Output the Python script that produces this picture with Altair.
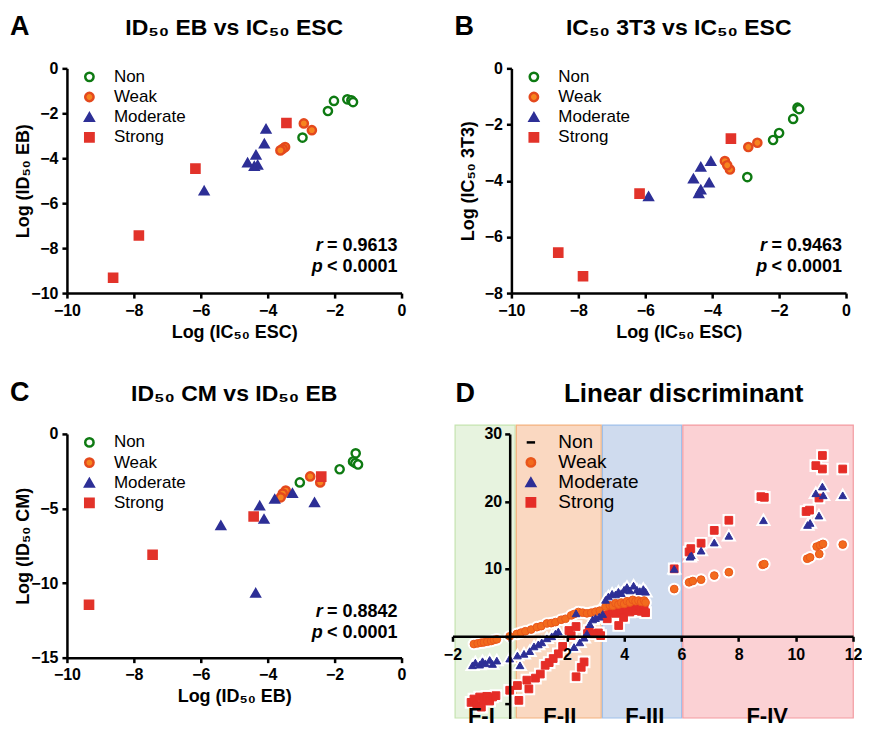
import altair as alt
import pandas as pd

FONT = "Liberation Sans"
CLASSES = ["Non", "Weak", "Moderate", "Strong"]

GREEN = "#0e7a12"
WEAK_FILL = "#f6841f"
WEAK_STROKE = "#e4491d"
MOD = "#2d2f96"
STR = "#e2332a"

# ---------------- Panel A : log ID50 EB vs log IC50 ESC ----------------
A_non_x = [-2.96, -2.2, -2.02, -1.62, -1.5, -1.45]
A_non_y = [-3.08, -1.9, -1.45, -1.38, -1.42, -1.5]
A_weak_x = [-2.92, -2.68, -3.48, -3.55, -3.62]
A_weak_y = [-2.45, -2.75, -3.5, -3.58, -3.65]
A_mod_x = [-4.05, -4.1, -4.35, -4.6, -4.4, -4.3, -5.9]
A_mod_y = [-2.7, -3.35, -3.85, -4.2, -4.35, -4.3, -5.45]
A_str_x = [-3.44, -6.16, -7.85, -8.62]
A_str_y = [-2.43, -4.46, -7.44, -9.32]

# ---------------- Panel B : log IC50 3T3 vs log IC50 ESC ----------------
B_non_x = [-1.45, -1.4, -1.58, -2.0, -2.18, -2.95]
B_non_y = [-1.4, -1.45, -1.8, -2.3, -2.55, -3.87]
B_weak_x = [-2.65, -2.92, -3.62, -3.47, -3.55]
B_weak_y = [-2.65, -2.8, -3.3, -3.6, -3.45]
B_mod_x = [-4.04, -4.34, -4.09, -4.56, -4.34, -4.4, -5.9]
B_mod_y = [-3.31, -3.51, -4.07, -3.93, -4.32, -4.45, -4.56]
B_str_x = [-3.44, -6.17, -8.6, -7.86]
B_str_y = [-2.5, -4.46, -6.56, -7.4]

# ---------------- Panel C : log ID50 CM vs log ID50 EB ----------------
C_non_x = [-1.37, -1.45, -1.38, -1.3, -1.85, -3.04]
C_non_y = [-1.3, -1.85, -1.95, -2.05, -2.37, -3.25]
C_weak_x = [-2.73, -2.43, -3.46, -3.55, -3.61]
C_weak_y = [-2.85, -3.25, -3.8, -4.0, -4.25]
C_mod_x = [-3.26, -3.79, -4.24, -4.11, -2.6, -5.4, -4.36]
C_mod_y = [-3.97, -4.37, -4.82, -5.71, -4.6, -6.14, -10.67]
C_str_x = [-2.4, -4.42, -7.44, -9.34]
C_str_y = [-2.86, -5.54, -8.1, -11.45]

# ---------------- Panel D : linear discriminant ----------------
D_weak_x = [-1.25, -1.12, -1.0, -0.9, -0.78, -0.65, -0.55, -0.45, 0.0,
            0.25, 0.4, 0.55, 0.75, 0.95, 1.1, 1.3, 1.45, 1.6, 1.8, 1.95, 2.15, 2.25, 2.4, 2.55, 2.7, 2.85, 3.0, 3.15,
            3.35, 3.5, 3.6, 3.7, 3.8, 3.9, 4.0, 4.1, 4.2, 4.3, 4.4, 4.5, 4.6, 4.7, 4.75,
            5.75,
            6.27, 6.4, 6.69, 7.15, 7.66, 8.84, 8.9, 10.4, 10.5, 10.82, 10.73, 10.85, 10.95, 11.64]
D_weak_y = [-1.15, -1.05, -0.95, -0.9, -0.8, -0.7, -0.55, -0.45, 0.0,
            0.35, 0.55, 0.75, 1.0, 1.35, 1.5, 1.9, 1.95, 2.1, 2.45, 2.6, 3.1, 3.3, 3.6, 3.5, 3.4, 3.5, 3.65, 3.8,
            4.4, 4.6, 4.5, 4.9, 4.7, 5.0, 4.8, 5.2, 5.0, 5.4, 5.2, 5.3, 5.1, 5.3, 5.0,
            7.0,
            8.0, 8.2, 8.4, 9.0, 9.5, 10.6, 10.7, 11.5, 11.7, 12.2, 13.3, 13.5, 13.7, 13.6]
D_mod_x = [-1.3, -1.2, -1.05, -0.95, -0.85, -0.7, -0.6, -0.45,
           0.0, 0.27, 0.36, 0.5, 0.7, 0.85, 1.0, 1.12, 1.3, 1.47, 1.6, 1.7,
           2.25, 2.32, 2.45, 2.6, 2.7, 2.8, 2.9, 3.0, 3.13, 3.25,
           3.35, 3.45, 3.58, 3.7, 3.8, 3.9, 4.0, 4.1, 4.2, 4.33, 4.45, 4.55, 4.67, 4.75,
           5.75,
           6.3, 6.35, 6.69, 7.15, 7.66, 8.87, 10.41, 10.5, 10.81, 10.7, 10.93, 10.96, 11.64]
D_mod_y = [-4.3, -3.9, -4.2, -3.7, -4.0, -3.5, -4.1, -3.6,
           -3.3, -2.85, -4.3, -2.6, -2.2, -1.5, -1.2, -0.9, -0.3, 0.0, 0.4, 0.7,
           -1.6, 3.4, -0.9, -0.2, 0.4, 1.8, 2.5, 2.7, 2.9, 3.3,
           5.4, 5.9, 6.3, 6.2, 6.6, 6.4, 6.9, 7.3, 6.8, 7.5, 6.9, 6.7, 7.0, 6.6,
           10.0,
           11.8, 12.0, 12.7, 13.9, 14.9, 17.2, 16.5, 16.8, 17.9, 21.2, 22.2, 20.9, 20.9]
D_str_x = [-1.35, -1.25, -1.15, -1.05, -0.99, -0.9, -0.8, -0.7, -0.6, -0.48,
           0.0, 0.27, 0.32, 0.6, 0.67, 0.9, 1.07, 1.24, 1.38, 1.52, 1.7, 1.85, 2.07, 2.15, 2.32, 2.32,
           2.5, 2.6, 2.72, 2.78, 2.95, 3.1, 3.18,
           3.35, 3.41, 3.5, 3.6, 3.7, 3.81, 3.9, 3.98, 4.1, 4.2, 4.3, 4.4, 4.5, 4.6, 4.7, 4.75,
           5.75,
           6.27, 6.33, 6.69, 7.15, 7.66, 8.78, 8.9, 10.36, 10.48, 10.7, 10.93, 10.93, 10.81, 11.64]
D_str_y = [-9.8, -9.3, -10.2, -9.0, -10.5, -9.5, -8.9, -9.6, -9.0, -8.8,
           -8.0, -7.3, -9.5, -6.5, -7.8, -6.2, -5.6, -4.3, -3.9, -3.3, -2.6, -1.5, 0.86, 0.1, 1.45, -6.0,
           -4.6, -3.8, 0.4, 0.86, 0.37, 0.5, 0.1,
           3.1, 2.6, 3.6, 3.9, 3.4, 1.6, 3.7, 2.8, 4.0, 3.6, 4.3, 3.8, 4.4, 3.7, 4.2, 3.5,
           10.0,
           12.5, 13.0, 13.8, 15.7, 17.2, 20.7, 20.6, 18.5, 18.7, 25.3, 26.8, 24.8, 20.5, 24.8]

BAND_NAMES = ["F-I", "F-II", "F-III", "F-IV"]
BAND_X0 = [-1.93, 0.21, 3.22, 6.03]
BAND_X1 = [0.21, 3.22, 6.03, 12.03]
BAND_YLO = -12.2
BAND_YHI = 31.4
BAND_LABEL_X = [-0.99, 1.75, 4.72, 9.0]
BAND_FILL = ["#e7f3df", "#fad8c1", "#cfdbee", "#fbd1d4"]
BAND_EDGE = ["#c6e4b0", "#f3b27e", "#9fc0ea", "#f39aa0"]


def make_df(groups):
    rows = []
    for cls, xs, ys in groups:
        for x, y in zip(xs, ys):
            rows.append({"cls": cls, "x": x, "y": y})
    return pd.DataFrame(rows)


def txt(text, x, y, size, weight="bold", style="normal", align="left"):
    return alt.Chart(pd.DataFrame({"t": [text]})).mark_text(
        font=FONT, fontSize=size, fontWeight=weight, fontStyle=style,
        align=align, baseline="alphabetic", color="black"
    ).encode(x=alt.value(x), y=alt.value(y), text="t:N")


def scatter_panel(df, letter, title, xtitle, ytitle, ydom, yticks, rval, W=335, H=225):
    leg = alt.Legend(orient="none", legendX=14, legendY=0, title=None,
                     labelFont=FONT, labelFontSize=17, labelFontWeight="normal",
                     labelColor="black", symbolSize=70, symbolStrokeWidth=2.5,
                     labelOffset=16, rowPadding=1.2, padding=0)
    pts = alt.Chart(df).mark_point(opacity=1, size=68, strokeWidth=2.4).encode(
        x=alt.X("x:Q", scale=alt.Scale(domain=[-10, 0], nice=False, zero=False),
                axis=alt.Axis(values=[-10, -8, -6, -4, -2, 0], title=xtitle)),
        y=alt.Y("y:Q", scale=alt.Scale(domain=ydom, nice=False, zero=False),
                axis=alt.Axis(values=yticks, title=ytitle, titleX=-34, titleBaseline="bottom")),
        fill=alt.Fill("cls:N", scale=alt.Scale(domain=CLASSES, range=["white", WEAK_FILL, MOD, STR]), legend=leg),
        stroke=alt.Stroke("cls:N", scale=alt.Scale(domain=CLASSES, range=[GREEN, WEAK_STROKE, MOD, STR]), legend=leg),
        shape=alt.Shape("cls:N", scale=alt.Scale(domain=CLASSES, range=["circle", "circle", "triangle-up", "square"]), legend=leg),
    )
    layers = [
        pts,
        txt(letter, -57, -33, 27),
        txt(title, W / 2, -33, 23, align="center"),
        txt("r", W - 79, 183, 18, style="italic", align="right"),
        txt("= " + rval, W - 4, 183, 18, align="right"),
        txt("p", W - 79, 204, 18, style="italic", align="right"),
        txt("< 0.0001", W - 4, 204, 18, align="right"),
    ]
    return alt.layer(*layers).properties(width=W, height=H)


dfA = make_df([("Non", A_non_x, A_non_y), ("Weak", A_weak_x, A_weak_y),
               ("Moderate", A_mod_x, A_mod_y), ("Strong", A_str_x, A_str_y)])
dfB = make_df([("Non", B_non_x, B_non_y), ("Weak", B_weak_x, B_weak_y),
               ("Moderate", B_mod_x, B_mod_y), ("Strong", B_str_x, B_str_y)])
dfC = make_df([("Non", C_non_x, C_non_y), ("Weak", C_weak_x, C_weak_y),
               ("Moderate", C_mod_x, C_mod_y), ("Strong", C_str_x, C_str_y)])

A = scatter_panel(dfA, "A", "ID₅₀ EB vs IC₅₀ ESC", "Log (IC₅₀ ESC)", "Log (ID₅₀ EB)",
                  [-10, 0], [-10, -8, -6, -4, -2, 0], "0.9613")
B = scatter_panel(dfB, "B", "IC₅₀ 3T3 vs IC₅₀ ESC", "Log (IC₅₀ ESC)", "Log (IC₅₀ 3T3)",
                  [-8, 0], [-8, -6, -4, -2, 0], "0.9463")
C = scatter_panel(dfC, "C", "ID₅₀ CM vs ID₅₀ EB", "Log (ID₅₀ EB)", "Log (ID₅₀ CM)",
                  [-15, 0], [-15, -10, -5, 0], "0.8842", H=224)

# ---------------- Panel D build ----------------
Wd, Hd = 401, 285
xdD = [-2, 12]
ydD = [-12.2, 30]
xsc = alt.Scale(domain=xdD, nice=False, zero=False)
ysc = alt.Scale(domain=ydD, nice=False, zero=False)
xaxD = alt.Axis(values=[-2, 0, 2, 4, 6, 8, 10, 12], title=None, zindex=1,
                offset=-Hd * (0 - ydD[0]) / (ydD[1] - ydD[0]),
                labelExpr="datum.value == 0 ? '' : datum.label", labelPadding=5)
yaxD = alt.Axis(values=[-10, 0, 10, 20, 30], title=None, zindex=1,
                offset=-Wd * (0 - xdD[0]) / (xdD[1] - xdD[0]),
                labelExpr="datum.value <= 0 ? '' : datum.label", labelPadding=3)

bands = pd.DataFrame({"band": BAND_NAMES, "x0": BAND_X0, "x1": BAND_X1,
                      "y0": [BAND_YLO] * 4, "y1": [BAND_YHI] * 4, "lx": BAND_LABEL_X})

edge = alt.Chart(bands).mark_rect().encode(
    x=alt.X("x0:Q", scale=xsc, axis=xaxD), x2="x1",
    y=alt.Y("y0:Q", scale=ysc, axis=yaxD), y2="y1",
    color=alt.Color("band:N", scale=alt.Scale(domain=BAND_NAMES, range=BAND_EDGE), legend=None),
)
fillr = alt.Chart(bands).mark_rect(xOffset=1.2, x2Offset=-1.2, yOffset=-1.2, y2Offset=1.2).encode(
    x=alt.X("x0:Q", scale=xsc, axis=xaxD), x2="x1",
    y=alt.Y("y0:Q", scale=ysc, axis=yaxD), y2="y1",
    color=alt.Color("band:N", scale=alt.Scale(domain=BAND_NAMES, range=BAND_FILL), legend=None),
)

dfD = make_df([("Strong", D_str_x, D_str_y), ("Weak", D_weak_x, D_weak_y),
               ("Moderate", D_mod_x, D_mod_y)])

legD = alt.Legend(orient="none", legendX=69, legendY=-1, title=None,
                  labelFont=FONT, labelFontSize=19, labelFontWeight="normal",
                  labelColor="black", symbolSize=70, symbolStrokeWidth=2.5,
                  labelOffset=18, rowPadding=0, padding=0)
shapeD = alt.Shape("cls:N", scale=alt.Scale(domain=CLASSES, range=["stroke", "circle", "triangle-up", "square"]), legend=legD)

halo = alt.Chart(dfD).mark_point(opacity=1, size=75, fill="white", stroke="white", strokeWidth=4).encode(
    x=alt.X("x:Q", scale=xsc, axis=xaxD),
    y=alt.Y("y:Q", scale=ysc, axis=yaxD),
    shape=shapeD,
)
ptsD = alt.Chart(dfD).mark_point(opacity=1, size=60, strokeWidth=1).encode(
    x=alt.X("x:Q", scale=xsc, axis=xaxD),
    y=alt.Y("y:Q", scale=ysc, axis=yaxD),
    fill=alt.Fill("cls:N", scale=alt.Scale(domain=CLASSES, range=["black", "#f26b1d", MOD, "#e52d27"]), legend=legD),
    stroke=alt.Stroke("cls:N", scale=alt.Scale(domain=CLASSES, range=["black", "#e9561b", MOD, "#e52d27"]), legend=legD),
    shape=shapeD,
)
flabels = alt.Chart(bands).mark_text(font=FONT, fontSize=22, fontWeight="bold", color="black",
                                     baseline="alphabetic", align="center").encode(
    x=alt.X("lx:Q", scale=xsc, axis=xaxD), y=alt.value(Hd + 4), text="band:N")

D = alt.layer(
    edge, fillr, halo, ptsD, flabels,
    txt("D", 3, -32, 27),
    txt("Linear discriminant", Wd / 2 + 31, -32, 26, align="center"),
).resolve_scale(color="independent").properties(width=Wd, height=Hd)

ind = dict(fill="independent", stroke="independent", shape="independent", color="independent",
           x="independent", y="independent")
row1 = alt.hconcat(A, B, spacing=48).resolve_scale(**ind).resolve_legend(
    fill="independent", stroke="independent", shape="independent")
row2 = alt.hconcat(C, D, spacing=36).resolve_scale(**ind).resolve_legend(
    fill="independent", stroke="independent", shape="independent")

chart = alt.vconcat(row1, row2, spacing=38).resolve_scale(**ind).resolve_legend(
    fill="independent", stroke="independent", shape="independent"
).properties(
    padding={"left": 2, "top": 5, "right": 0, "bottom": 0}
).configure_axis(
    labelFont=FONT, labelFontSize=16, labelFontWeight="bold", labelColor="black",
    titleFont=FONT, titleFontSize=18, titleFontWeight="bold", titleColor="black",
    domainColor="black", domainWidth=2.5, tickColor="black", tickWidth=2.5, tickSize=5,
    grid=False, labelPadding=4, titlePadding=5, labelFlush=False, labelOverlap=False,
).configure_view(stroke=None)

chart.save("out.html", embed_options={"renderer": "svg", "actions": False})
